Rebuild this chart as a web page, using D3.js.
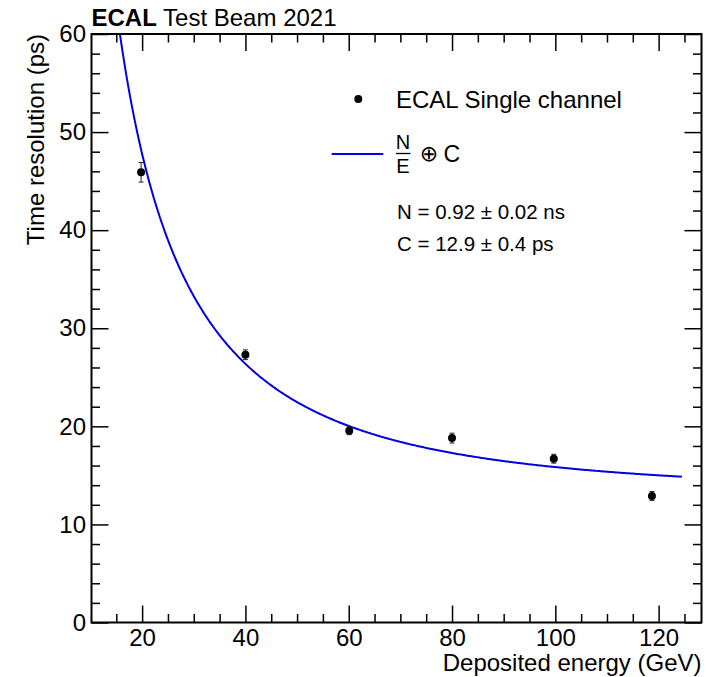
<!DOCTYPE html>
<html>
<head>
<meta charset="utf-8">
<script src="https://cdn.jsdelivr.net/npm/d3@7"></script>
<style>
  body { margin: 0; background: #fff; }
  text { font-family: "Liberation Sans", Arial, Helvetica, sans-serif; fill: #000; }
</style>
</head>
<body>
<div id="chart"></div>
<script>
// measured points (deposited energy in GeV, time resolution in ps)
var energy = [19.8, 40.0, 60.1, 80.0, 99.7, 118.7];
var resolution = [45.9, 27.3, 19.55, 18.8, 16.7, 12.9];
var resErr = [1.0, 0.5, 0.4, 0.5, 0.45, 0.45];

// fit parameters: N in ps*GeV, C in ps
var fitN = 920, fitC = 12.9;
var fitRange = [15, 124.5];

var xMajor = [20, 40, 60, 80, 100, 120];
var xMinor = [15, 25, 30, 35, 45, 50, 55, 65, 70, 75, 85, 90, 95, 105, 110, 115, 125];
var yMajor = [0, 10, 20, 30, 40, 50, 60];
var yMinor = [2, 4, 6, 8, 12, 14, 16, 18, 22, 24, 26, 28, 32, 34, 36, 38, 42, 44, 46, 48, 52, 54, 56, 58];

(function() {
  var W = 708, H = 677;
  var pL = 91.5, pR = 701.5, pT = 34, pB = 622.5;

  var svg = d3.select('#chart').append('svg')
    .attr('width', W).attr('height', H);

  var x = d3.scaleLinear().domain([10.2, 128.3]).range([pL, pR]);
  var y = d3.scaleLinear().domain([0, 60]).range([pB, pT]);

  function ticks(g) {
    g.select('.domain').remove();
    g.selectAll('line').attr('stroke', '#000').attr('stroke-width', 1.5);
    g.selectAll('text').style('font-size', '24px')
      .style('font-family', '"Liberation Sans", Arial, sans-serif');
  }

  // bottom axis
  svg.append('g').attr('transform', 'translate(0,' + pB + ')')
    .call(d3.axisBottom(x).tickValues(xMajor).tickSize(-17).tickPadding(6).tickFormat(d3.format('d')))
    .call(ticks);
  svg.append('g').attr('transform', 'translate(0,' + pB + ')')
    .call(d3.axisBottom(x).tickValues(xMinor).tickSize(-8.5).tickFormat(''))
    .call(ticks);
  // top axis (mirror)
  svg.append('g').attr('transform', 'translate(0,' + pT + ')')
    .call(d3.axisTop(x).tickValues(xMajor).tickSize(-17).tickFormat(''))
    .call(ticks);
  svg.append('g').attr('transform', 'translate(0,' + pT + ')')
    .call(d3.axisTop(x).tickValues(xMinor).tickSize(-8.5).tickFormat(''))
    .call(ticks);
  // left axis
  svg.append('g').attr('transform', 'translate(' + pL + ',0)')
    .call(d3.axisLeft(y).tickValues(yMajor).tickSize(-17).tickPadding(5.5).tickFormat(d3.format('d')))
    .call(ticks);
  svg.append('g').attr('transform', 'translate(' + pL + ',0)')
    .call(d3.axisLeft(y).tickValues(yMinor).tickSize(-8.5).tickFormat(''))
    .call(ticks);
  // right axis (mirror)
  svg.append('g').attr('transform', 'translate(' + pR + ',0)')
    .call(d3.axisRight(y).tickValues(yMajor).tickSize(-17).tickFormat(''))
    .call(ticks);
  svg.append('g').attr('transform', 'translate(' + pR + ',0)')
    .call(d3.axisRight(y).tickValues(yMinor).tickSize(-8.5).tickFormat(''))
    .call(ticks);

  // fit curve  N/E (+) C
  svg.append('clipPath').attr('id', 'frame')
    .append('rect').attr('x', pL).attr('y', pT)
    .attr('width', pR - pL).attr('height', pB - pT);

  var curve = d3.range(fitRange[0], fitRange[1] + 0.001, 0.25).map(function(e) {
    return [e, Math.sqrt(Math.pow(fitN / e, 2) + fitC * fitC)];
  });
  svg.append('path')
    .attr('clip-path', 'url(#frame)')
    .attr('d', d3.line().x(function(d) { return x(d[0]); }).y(function(d) { return y(d[1]); })(curve))
    .attr('fill', 'none').attr('stroke', '#0000e0').attr('stroke-width', 2);

  // points with error bars
  var pts = svg.selectAll('g.pt')
    .data(energy.map(function(e, i) { return { e: e, r: resolution[i], err: resErr[i] }; }))
    .enter().append('g').attr('class', 'pt');
  pts.append('line')
    .attr('x1', function(d) { return x(d.e); }).attr('x2', function(d) { return x(d.e); })
    .attr('y1', function(d) { return y(d.r + d.err); }).attr('y2', function(d) { return y(d.r - d.err); })
    .attr('stroke', '#222').attr('stroke-width', 1);
  [1, -1].forEach(function(s) {
    pts.append('line')
      .attr('x1', function(d) { return x(d.e) - 2.5; }).attr('x2', function(d) { return x(d.e) + 2.5; })
      .attr('y1', function(d) { return y(d.r + s * d.err); }).attr('y2', function(d) { return y(d.r + s * d.err); })
      .attr('stroke', '#222').attr('stroke-width', 1);
  });
  pts.append('circle')
    .attr('cx', function(d) { return x(d.e); }).attr('cy', function(d) { return y(d.r); })
    .attr('r', 4).attr('fill', '#000');

  // frame
  svg.append('rect').attr('x', pL).attr('y', pT)
    .attr('width', pR - pL).attr('height', pB - pT)
    .attr('fill', 'none').attr('stroke', '#000').attr('stroke-width', 2);

  // titles
  var title = svg.append('text').attr('x', pL).attr('y', 26).style('font-size', '24px');
  title.append('tspan').attr('font-weight', 'bold').text('ECAL');
  title.append('tspan').text(' Test Beam 2021');

  svg.append('text').attr('x', pR).attr('y', 671)
    .attr('text-anchor', 'end').style('font-size', '24px')
    .text('Deposited energy (GeV)');

  svg.append('text').attr('transform', 'translate(43.5,' + pT + ') rotate(-90)')
    .attr('text-anchor', 'end').style('font-size', '24px')
    .text('Time resolution (ps)');

  // legend
  svg.append('circle').attr('cx', 358.3).attr('cy', 99).attr('r', 4).attr('fill', '#000');
  svg.append('text').attr('x', 396).attr('y', 107.5).style('font-size', '24px')
    .text('ECAL Single channel');

  svg.append('line').attr('x1', 331.7).attr('x2', 383.3).attr('y1', 154).attr('y2', 154)
    .attr('stroke', '#0000e0').attr('stroke-width', 2);
  svg.append('text').attr('x', 403).attr('y', 149).attr('text-anchor', 'middle')
    .style('font-size', '20px').text('N');
  svg.append('line').attr('x1', 396).attr('x2', 410.5).attr('y1', 153.5).attr('y2', 153.5)
    .attr('stroke', '#000').attr('stroke-width', 1.3);
  svg.append('text').attr('x', 403).attr('y', 173).attr('text-anchor', 'middle')
    .style('font-size', '20px').text('E');
  svg.append('text').attr('x', 429).attr('y', 160.5).attr('text-anchor', 'middle')
    .style('font-size', '22px').style('font-family', '"DejaVu Sans", sans-serif').text('\u2295');
  svg.append('text').attr('x', 443.5).attr('y', 162).style('font-size', '23px').text('C');

  svg.append('text').attr('x', 397).attr('y', 218.5).style('font-size', '20.5px')
    .text('N = 0.92 \u00b1 0.02 ns');
  svg.append('text').attr('x', 397).attr('y', 251).style('font-size', '20.5px')
    .text('C = 12.9 \u00b1 0.4 ps');
})();
</script>
</body>
</html>
